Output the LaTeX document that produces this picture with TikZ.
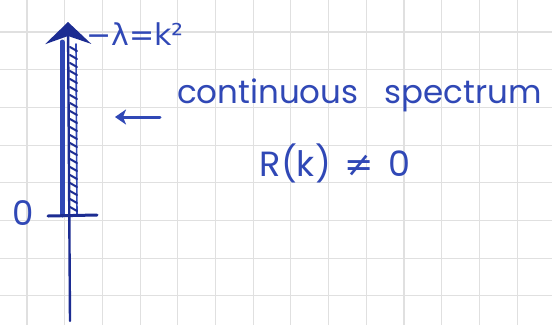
\documentclass[tikz,border=0pt]{standalone}
\usepackage{fontspec}
\setmainfont{Poppins}
\newfontfamily\symfont{DejaVu Sans}
\usetikzlibrary{arrows.meta,calc,positioning}
\definecolor{ink}{RGB}{48,72,182}
\definecolor{darkink}{RGB}{28,44,146}
\definecolor{gridgray}{RGB}{224,224,224}
\tikzset{
  gridline/.style={gridgray,line width=1.1pt},
  pen/.style={ink,line width=2.4pt,line cap=round},
  hand/.style={ink,inner sep=0pt},
}

\begin{document}
\begin{tikzpicture}[x=1pt,y=-1pt,>=Stealth]
  \useasboundingbox (0,0) rectangle (552,325);
  \fill[white] (0,0) rectangle (552,325);
  \foreach \i in {0,...,14} \draw[gridline] ({-10.7+37.7*\i},0) -- ++(0,325);
  \foreach \j in {0,...,8} \draw[gridline] (0,{-5.7+37.7*\j}) -- ++(552,0);
  \coordinate (bottom) at (70,321);
  \coordinate (top) at (68,22);
  \draw[pen,darkink,-{Stealth[length=22pt,width=46pt,inset=8pt]}] (bottom) -- (top);
  \draw[pen,line width=5pt] (62,215) -- (62,42);
  \draw[pen,line width=1.6pt] (77,215) -- (76,44);
  \foreach \y in {47,55,...,210} \draw[pen,darkink,line width=2pt] (70,\y) -- (77,\y+4);
  \draw[pen,darkink,line width=3pt] (48,216) -- (97,215);
  \node[hand,font=\fontsize{34}{36}\selectfont] (zero) at (23,213) {0};
  \node[hand,anchor=base west,font=\symfont\fontsize{30}{32}\selectfont] (eigen) at (86,45) {−λ=k²};
  \node[hand,anchor=base west,font=\fontsize{32.5}{36}\selectfont] (cont) at (177,103) {continuous\hspace{26pt}spectrum};
  \node[hand,font=\fontsize{35}{37}\selectfont] (refl) at (335,163) {R(k)\hspace{14pt}{\symfont≠}\hspace{14pt}0};
  \coordinate (tail) at (160,117);
  \coordinate (head) at (115,117);
  \draw[pen,line width=3pt,-{Stealth[length=11pt,width=15pt,inset=3pt]}] (tail) -- (head);
\end{tikzpicture}
\end{document}
